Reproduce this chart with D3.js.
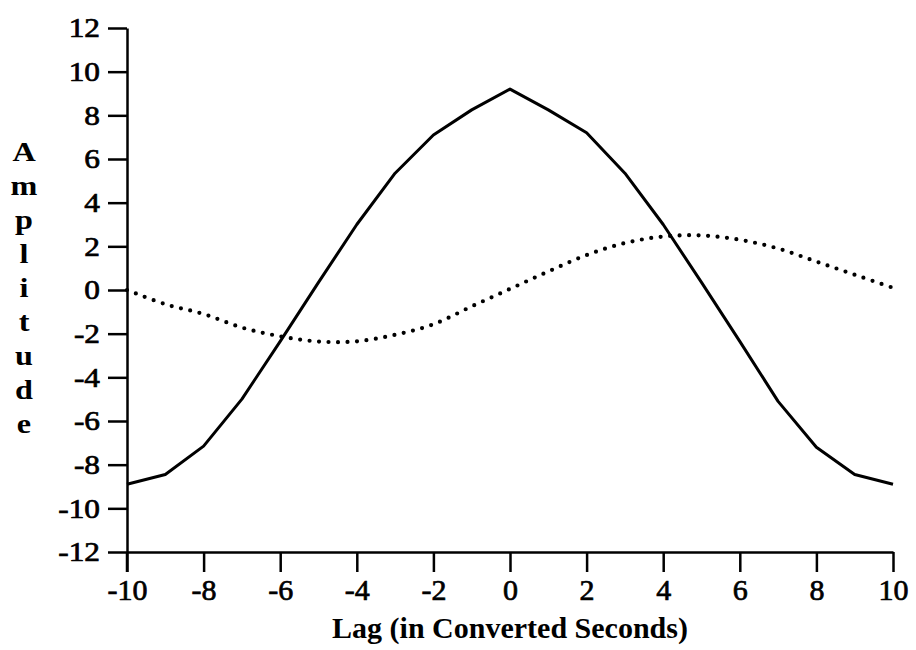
<!DOCTYPE html>
<html>
<head>
<meta charset="utf-8">
<script src="https://cdn.jsdelivr.net/npm/d3@7"></script>
<style>
  body { margin: 0; background: #fff; }
  text { font-family: "Liberation Serif", "Times New Roman", serif; fill: #000; }
</style>
</head>
<body>
<svg width="916" height="650"></svg>
<script>
// lag values (x) shared by both series
var lags = [-10,-9,-8,-7,-6,-5,-4,-3,-2,-1,0,1,2,3,4,5,6,7,8,9,10];
// solid series
var solidVals = [-8.9,-8.45,-7.15,-5.0,-2.35,0.35,3.0,5.35,7.1,8.25,9.2,8.25,7.2,5.35,3.0,0.35,-2.35,-5.1,-7.2,-8.45,-8.9];
// dotted series
var dottedVals = [0,-0.65,-1.1,-1.72,-2.12,-2.36,-2.35,-2.05,-1.57,-0.75,0.05,0.85,1.6,2.15,2.45,2.5,2.3,1.9,1.3,0.7,0.1];

var xTicks = [-10,-8,-6,-4,-2,0,2,4,6,8,10];
var yTicks = [-12,-10,-8,-6,-4,-2,0,2,4,6,8,10,12];
var yTitle = "Amplitude";
var xTitle = "Lag (in Converted Seconds)";

var svg = d3.select("svg");

var x = d3.scaleLinear().domain([-10,10]).range([127,893]);
var y = d3.scaleLinear().domain([-12,12]).range([552,28]);

// x axis
var gx = svg.append("g")
    .attr("transform","translate(0,552)")
    .call(d3.axisBottom(x).tickValues(xTicks).tickSize(20).tickSizeOuter(0).tickPadding(7).tickFormat(function(d){ return String(d); }));
gx.select(".domain").attr("stroke","#000").attr("stroke-width",2.5);
gx.selectAll(".tick line").attr("stroke","#000").attr("stroke-width",2.5);
gx.selectAll(".tick text")
    .attr("font-size",30)
    .attr("stroke","#000").attr("stroke-width",0.7);

// y axis
var gy = svg.append("g")
    .attr("transform","translate(127,0)")
    .call(d3.axisLeft(y).tickValues(yTicks).tickSize(19).tickSizeOuter(0).tickFormat(function(d){ return String(d); }));
gy.select(".domain").attr("stroke","#000").attr("stroke-width",2.5);
gy.selectAll(".tick line").attr("stroke","#000").attr("stroke-width",2.5);
gy.selectAll(".tick text")
    .attr("font-size",28)
    .attr("x",-27/1.12)
    .attr("transform","scale(1.12,1)")
    .attr("stroke","#000").attr("stroke-width",0.7);

// y axis continues a little below the x axis
svg.append("line")
    .attr("x1",127).attr("x2",127)
    .attr("y1",y(-12)).attr("y2",y(-12)+20)
    .attr("stroke","#000").attr("stroke-width",2.5);

// series
var pts = function(vals){ return lags.map(function(l,i){ return [l, vals[i]]; }); };

var solidLine = d3.line().x(function(d){ return x(d[0]); }).y(function(d){ return y(d[1]); });
svg.append("path")
    .datum(pts(solidVals))
    .attr("d",solidLine)
    .attr("fill","none")
    .attr("stroke","#000")
    .attr("stroke-width",3)
    .attr("stroke-linejoin","round");

var dotLine = d3.line().curve(d3.curveCatmullRom).x(function(d){ return x(d[0]); }).y(function(d){ return y(d[1]); });
svg.append("path")
    .datum(pts(dottedVals))
    .attr("d",dotLine)
    .attr("fill","none")
    .attr("stroke","#000")
    .attr("stroke-width",4.2)
    .attr("stroke-linecap","round")
    .attr("stroke-dasharray","0 9.5");

// vertical y title, one letter per line
svg.append("g").selectAll("text")
    .data(yTitle.split(""))
    .enter().append("text")
    .attr("transform",function(d,i){ return "translate(24," + (161 + i*34) + ") scale(1.15,1)"; })
    .attr("text-anchor","middle")
    .attr("font-size",28)
    .attr("font-weight","bold")
    .text(function(d){ return d; });

// x title
svg.append("text")
    .attr("x",510).attr("y",638)
    .attr("text-anchor","middle")
    .attr("font-size",30)
    .attr("font-weight","bold")
    .text(xTitle);
</script>
</body>
</html>
